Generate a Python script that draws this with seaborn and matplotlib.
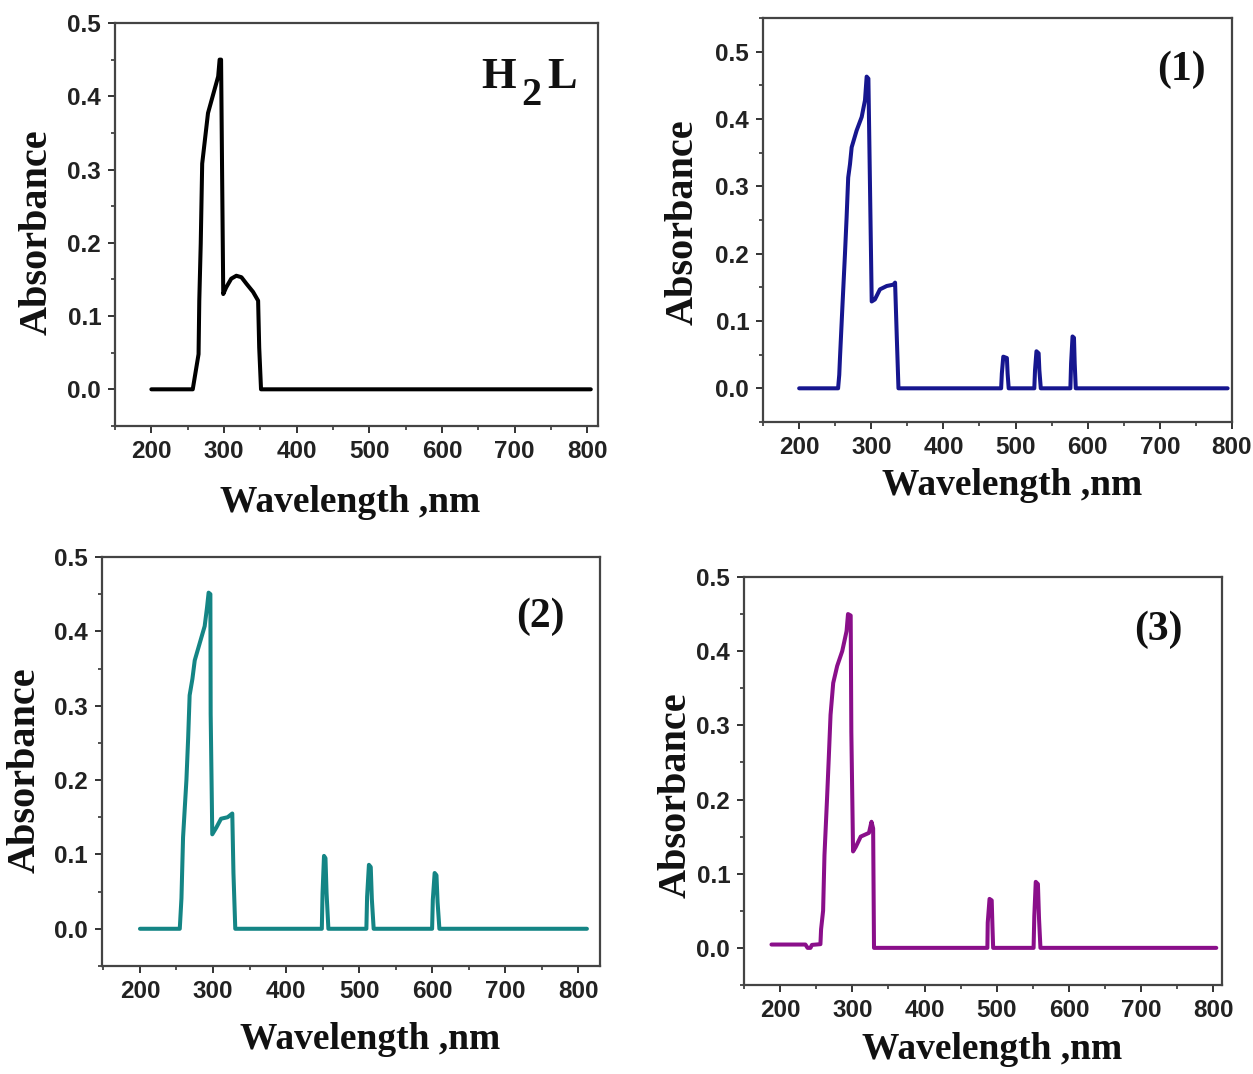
import matplotlib
matplotlib.use("Agg")
import matplotlib.pyplot as plt
import seaborn as sns
import pandas as pd
from matplotlib.ticker import MultipleLocator

# ---------------- data ----------------
wl_h2l = [200, 257, 265, 266, 268, 270, 278, 292, 294, 296, 297.5, 299, 303, 310, 317,
          324, 331, 340, 347, 348.5, 351, 805]
abs_h2l = [0, 0, 0.048, 0.121, 0.199, 0.308, 0.377, 0.427, 0.45, 0.45, 0.286, 0.130, 0.139,
           0.151, 0.155, 0.153, 0.144, 0.133, 0.121, 0.057, 0, 0]

wl_c1 = [200, 254, 255.6, 256.6, 260, 263.5, 265.8, 268, 270.5, 272.8, 279.7, 286.7, 291.3,
         293.6, 296, 298.3, 300.6, 305, 312, 321.5, 330.7, 333, 335.4, 337.7,
         480, 481, 483, 488, 489, 490.5,
         526, 527, 529, 532, 533, 535,
         576, 577, 579, 581, 582, 583.5,
         794]
abs_c1 = [0, 0, 0.02, 0.045, 0.122, 0.199, 0.254, 0.313, 0.333, 0.358, 0.383, 0.403, 0.428,
          0.463, 0.46, 0.294, 0.129, 0.132, 0.147, 0.152, 0.154, 0.157, 0.075, 0,
          0, 0.022, 0.047, 0.045, 0.022, 0,
          0, 0.027, 0.055, 0.052, 0.027, 0,
          0, 0.037, 0.077, 0.075, 0.037, 0,
          0]

wl_c2 = [200, 254.5, 256.8, 259, 263.6, 266, 268, 271.8, 275, 281.8, 288.6, 291.8, 294,
         296.4, 296.8, 299, 304.5, 311, 320, 326.4, 328, 330.5,
         449, 450, 452, 454, 455.5, 458,
         510, 511, 513.5, 516, 517.5, 520,
         600, 601, 603.5, 606, 607.5, 610,
         812]
abs_c2 = [0, 0, 0.041, 0.123, 0.2, 0.257, 0.314, 0.336, 0.361, 0.384, 0.407, 0.432, 0.452,
          0.45, 0.289, 0.127, 0.136, 0.148, 0.15, 0.155, 0.075, 0,
          0, 0.048, 0.098, 0.095, 0.048, 0,
          0, 0.043, 0.086, 0.083, 0.040, 0,
          0, 0.039, 0.075, 0.072, 0.036, 0,
          0]

wl_c3 = [188, 235, 238, 242, 244, 255.8, 256.7, 259.5, 261.4, 265, 267.4, 269.8, 273.5, 279,
         286, 292, 294, 297.7, 298.6, 301, 304.7, 311.6, 323, 326.5, 328.8, 330,
         487, 487.5, 490, 493, 494, 495,
         551, 552, 554, 557, 558.5, 560.5,
         804]
abs_c3 = [0.0045, 0.0045, 0.0, 0.0, 0.004, 0.005, 0.025, 0.05, 0.125, 0.202, 0.257, 0.314,
          0.357, 0.38, 0.4, 0.427, 0.45, 0.448, 0.291, 0.13, 0.136, 0.15, 0.155, 0.17, 0.161, 0,
          0, 0.034, 0.066, 0.064, 0.03, 0,
          0, 0.043, 0.089, 0.086, 0.04, 0,
          0]

panel_labels = ["H2L", "(1)", "(2)", "(3)"]
x_ticks = [200, 300, 400, 500, 600, 700, 800]
y_ticks = [0.0, 0.1, 0.2, 0.3, 0.4, 0.5]
x_label = "Wavelength ,nm"
y_label = "Absorbance"

# ---------------- style ----------------
sns.set_theme(style="ticks")
plt.rcParams['font.family'] = ['Liberation Serif', 'DejaVu Serif']

fig = plt.figure(figsize=(12.53, 10.74), dpi=100)
fig.patch.set_facecolor("white")

panels = [
    dict(wl=wl_h2l, ab=abs_h2l, color="#000000", rect=[0.0918, 0.6034, 0.3855, 0.3752],
         xlim=(150, 815), ylim=(-0.05, 0.5), ylc=(-0.161, 0.48), xlc=(0.487, -0.189),
         tpos=(0.853, 0.876)),
    dict(wl=wl_c1, ab=abs_c1, color="#16168f", rect=[0.6090, 0.6071, 0.3742, 0.3761],
         xlim=(150, 800), ylim=(-0.05, 0.55), ylc=(-0.171, 0.495), xlc=(0.531, -0.158),
         tpos=(0.893, 0.871)),
    dict(wl=wl_c2, ab=abs_c2, color="#148585", rect=[0.0814, 0.1006, 0.3975, 0.3808],
         xlim=(148, 830), ylim=(-0.05, 0.5), ylc=(-0.155, 0.479), xlc=(0.538, -0.181),
         tpos=(0.88, 0.853)),
    dict(wl=wl_c3, ab=abs_c3, color="#8a0f8a", rect=[0.5938, 0.0829, 0.3815, 0.3799],
         xlim=(150, 812), ylim=(-0.05, 0.5), ylc=(-0.142, 0.466), xlc=(0.519, -0.159),
         tpos=(0.866, 0.87)),
]

for p, lab in zip(panels, panel_labels):
    ax = fig.add_axes(p["rect"])
    df = pd.DataFrame({"Wavelength": p["wl"], "Absorbance": p["ab"]})
    sns.lineplot(data=df, x="Wavelength", y="Absorbance", ax=ax, color=p["color"],
                 sort=False, estimator=None, linewidth=2.9)
    ax.set_xlim(*p["xlim"])
    ax.set_ylim(*p["ylim"])
    ax.set_xticks(x_ticks)
    ax.set_yticks(y_ticks)
    ax.xaxis.set_minor_locator(MultipleLocator(50))
    ax.yaxis.set_minor_locator(MultipleLocator(0.05))
    ax.set_xticklabels([str(t) for t in x_ticks])
    ax.set_yticklabels([f"{t:.1f}" for t in y_ticks])
    for lbl in ax.get_xticklabels() + ax.get_yticklabels():
        lbl.set_family(['Liberation Sans', 'DejaVu Sans'])
        lbl.set_fontweight('bold')
        lbl.set_fontsize(17.5)
        lbl.set_color('#222222')
    ax.tick_params(which='major', direction='out', length=5, width=1.4, color='#333333', pad=5)
    ax.tick_params(which='minor', direction='out', length=3, width=1.2, color='#333333')
    for s in ax.spines.values():
        s.set_visible(True)
        s.set_linewidth(1.6)
        s.set_color('#444444')
    ax.set_xlabel(x_label, fontsize=27, fontweight='bold', color='#111111')
    ax.set_ylabel(y_label, fontsize=29, fontweight='bold', color='#111111')
    ax.xaxis.label.set_va('center')
    ax.yaxis.label.set_va('center')
    ax.xaxis.set_label_coords(*p["xlc"])
    ax.yaxis.set_label_coords(*p["ylc"])
    if lab == "H2L":
        # H, lowered full-size 2, L
        ax.text(0.793, 0.839, "H", transform=ax.transAxes, ha='center', va='baseline',
                fontsize=32, fontweight='bold', color='#111111')
        ax.text(0.862, 0.797, "2", transform=ax.transAxes, ha='center', va='baseline',
                fontsize=29, fontweight='bold', color='#111111')
        ax.text(0.925, 0.839, "L", transform=ax.transAxes, ha='center', va='baseline',
                fontsize=32, fontweight='bold', color='#111111')
    else:
        ax.text(p["tpos"][0], p["tpos"][1], lab, transform=ax.transAxes, ha='center',
                va='center', fontsize=30, fontweight='bold', color='#111111')

fig.savefig("out.png", dpi=100, facecolor="white")
